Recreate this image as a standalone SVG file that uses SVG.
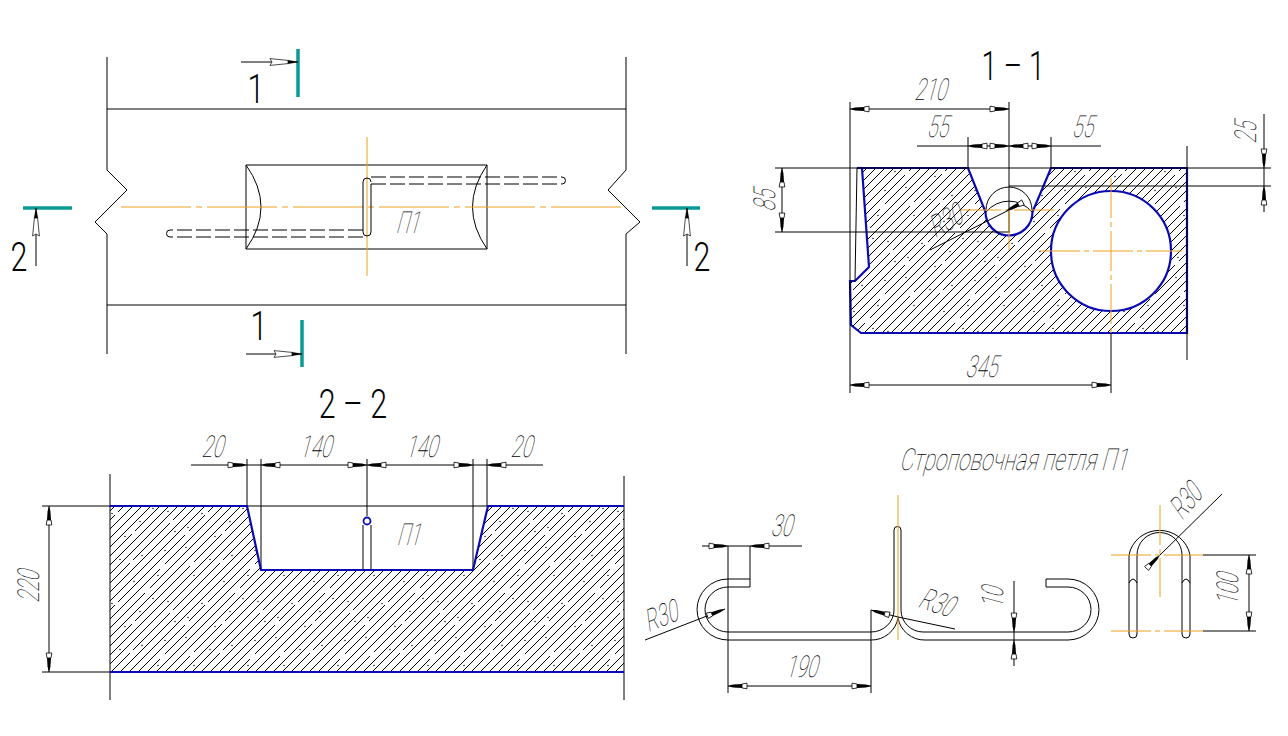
<svg xmlns="http://www.w3.org/2000/svg" xmlns:xlink="http://www.w3.org/1999/xlink" width="1288" height="736" viewBox="0 0 1288 736">
<style>
.k{fill:none;stroke:#000;stroke-width:1}
.b{fill:none;stroke:#0a0ab4;stroke-width:2.2}
.o{fill:none;stroke:#eda020;stroke-width:1;stroke-dasharray:70 5 6 5}
.os{fill:none;stroke:#eda020;stroke-width:1}
.t{fill:none;stroke:#0a9a96;stroke-width:3.5}
.dash{fill:none;stroke:#000;stroke-width:1;stroke-dasharray:15 4}
text{font-family:"Roboto","Liberation Sans",sans-serif;font-weight:100;fill:#000;text-anchor:middle;opacity:.98}
.dim{font-size:27px}
.big{font-size:38px;font-weight:300}
.lab{font-size:27px}
</style>
<defs>
<pattern id="h" width="9" height="9" patternUnits="userSpaceOnUse"><path d="M-1,10 L10,-1" stroke="#000" stroke-width="1" fill="none"/></pattern>
<pattern id="dots" width="90" height="90" patternUnits="userSpaceOnUse">
<path d="M10,26 l4,-4 M40,23 l3,-3 M70,29 l5,-5 M25,65 l3,-3 M55,53 l5,-5 M80,73 l3,-3 M5,85 l4,-4 M42,84 l3,-3" stroke="#fff" stroke-width="2" fill="none"/>
<g fill="#222"><circle cx="6" cy="7.5" r=".8"/><circle cx="30" cy="19.5" r=".8"/><circle cx="52" cy="15.5" r=".8"/><circle cx="75" cy="10.5" r=".8"/><circle cx="14" cy="35.5" r=".8"/><circle cx="44" cy="41.5" r=".8"/><circle cx="68" cy="35.5" r=".8"/><circle cx="22" cy="63.5" r=".8"/><circle cx="50" cy="71.5" r=".8"/><circle cx="78" cy="61.5" r=".8"/><circle cx="8" cy="77.5" r=".8"/><circle cx="35" cy="86.5" r=".8"/><circle cx="63" cy="58.5" r=".8"/><circle cx="85" cy="81.5" r=".8"/></g>
</pattern>
<g id="a"><path d="M0,0 L-5,-1.4 L-14,-2 V2 L-5,1.4 Z" fill="#000"/><path d="M-14,-2 L-19,-2.8 V2.8 L-14,2 Z" fill="#fff" stroke="#000" stroke-width=".8"/></g>
<g id="sa"><path d="M0,0 L-10,-1.8 L-10,1.8 Z" fill="#000" stroke="#000" stroke-width=".4"/><path d="M-10,-1.6 L-28,-3.4 L-26,0 L-28,3.4 L-10,1.6 Z" fill="#fff" stroke="#000" stroke-width=".7"/></g>
<path id="s1" d="M862,168 H968 L985.5,212 A23.5,23.5 0 0 0 1032.5,212 L1051,168 H1187 V333 H861 L851,325 L850,281 H855 L869,267 Z"/>
<path id="s2" d="M110,506 H247 L261,570 H473 L488,506 H624 V672 H110 Z"/>
</defs>
<rect width="1288" height="736" fill="#fff"/>

<g id="plan">
<path class="k" d="M107,57 V170 L127,190 L95,222 L107,234 V354 M626,57 V170 L608,190 L640,222 L626,234 V354 M107,109 H626 M107,305 H626"/>
<path class="k" d="M246,165 H487 V249 H246 Z M246,165 Q276,207 246,249 M487,165 Q458,207 487,249"/>
<path class="o" d="M121,207 H625"/>
<path class="os" d="M367,137 V276"/>
<path class="k" d="M371,184 V232 A4,4 0 0 1 363,232 V182 A4,4 0 0 1 371,182"/>
<path class="dash" d="M371,177 H562 M371,184 H562 M363,230 H170 M363,237 H170"/>
<path class="k" d="M562,177 A3.5,3.5 0 0 1 562,184 M170,230 A3.5,3.5 0 0 0 170,237"/>
<path class="t" d="M298,49 V97 M302,320 V367 M23,208 H72 M652,208 H700"/>
<path class="k" d="M241,62 H298 M246,354 H302 M36,266 V208 M687,266 V208"/>
<use href="#sa" transform="translate(298,62)"/>
<use href="#sa" transform="translate(302,354)"/>
<use href="#sa" transform="translate(36,208) rotate(-90)"/>
<use href="#sa" transform="translate(687,208) rotate(-90)"/>
<text class="big" transform="translate(256,103) scale(.8,1.05)">1</text>
<text class="big" transform="translate(259,340) scale(.8,1.05)">1</text>
<text class="big" transform="translate(19,271) scale(.8,1.05)">2</text>
<text class="big" transform="translate(702,271) scale(.8,1.05)">2</text>
<text class="lab" transform="translate(407,233) skewX(-15) scale(.68,1.12)">П1</text>
</g>

<g id="section-1-1">
<use href="#s1" fill="url(#h)"/>
<use href="#s1" fill="url(#dots)"/>
<circle cx="1111" cy="251" r="60" fill="#fff"/>
<circle class="b" cx="1111" cy="251" r="60"/>
<use href="#s1" class="b"/>
<path class="b" d="M857,168 H862"/>
<path class="k" d="M850,102 V393 M857,168 L855,281 M1009,102 V232 M968,137 V168 M1051,137 V168 M917,146 H1101 M850,109 H1009 M775,168 H1271 M775,232 H1010 M782,168 V232 M1009,186 H1271 M1264,114 V212 M1187,146 V360 M850,385 H1111 M1111,333 V393 M930,250 L1009,210"/>
<path class="k" d="M986,212 A31,33 0 0 1 1032,212 M986,210 A23,23 0 0 1 1032,210"/>
<path class="o" style="stroke-dasharray:40 4 5 4" d="M961,210 H1057 M1009,210 V250 M1040,251 H1182 M1111,178 V333"/>
<use href="#a" transform="translate(850,109) rotate(180)"/>
<use href="#a" transform="translate(1009,109)"/>
<use href="#a" transform="translate(968,146) rotate(180)"/>
<use href="#a" transform="translate(1009,146)"/>
<use href="#a" transform="translate(1009,146) rotate(180)"/>
<use href="#a" transform="translate(1051,146)"/>
<use href="#a" transform="translate(782,168) rotate(-90)"/>
<use href="#a" transform="translate(782,232) rotate(90)"/>
<use href="#a" transform="translate(1264,168) rotate(90)"/>
<use href="#a" transform="translate(1264,186) rotate(-90)"/>
<use href="#a" transform="translate(850,385) rotate(180)"/>
<use href="#a" transform="translate(1111,385)"/>
<use href="#a" transform="translate(1006,211) rotate(153)"/>
<text class="big" transform="translate(1013,80) scale(.74,1.05)">1 – 1</text>
<text class="dim" transform="translate(930,100) skewX(-15) scale(.72,1.12)">210</text>
<text class="dim" transform="translate(937,137) skewX(-15) scale(.72,1.12)">55</text>
<text class="dim" transform="translate(1082,137) skewX(-15) scale(.72,1.12)">55</text>
<text class="dim" transform="translate(775,201) rotate(-90) skewX(-15) scale(.72,1.12)">85</text>
<text class="dim" transform="translate(1256,133) rotate(-90) skewX(-15) scale(.72,1.12)">25</text>
<text class="dim" transform="translate(981,377) skewX(-15) scale(.72,1.12)">345</text>
<text class="dim" transform="translate(950,230) rotate(-30) skewX(-15) scale(.72,1.12)">R30</text>
</g>

<g id="section-2-2">
<use href="#s2" fill="url(#h)"/>
<use href="#s2" fill="url(#dots)"/>
<path class="k" d="M110,474 V700 M624,476 V700 M42,506 H488 M42,672 H110 M49,506 V672 M191,465 H543 M247,459 V506 M261,459 V570 M367,459 V516 M473,459 V570 M487,459 V506 M363,525 V570 M371,525 V570"/>
<path class="b" d="M110,506 H247 L261,570 H473 L488,506 H624 M110,672 H624"/>
<circle cx="367" cy="521" r="3.5" fill="#fff" stroke="#0a0ab4" stroke-width="1.8"/>
<use href="#a" transform="translate(247,465)"/>
<use href="#a" transform="translate(261,465) rotate(180)"/>
<use href="#a" transform="translate(367,465)"/>
<use href="#a" transform="translate(367,465) rotate(180)"/>
<use href="#a" transform="translate(473,465)"/>
<use href="#a" transform="translate(487,465) rotate(180)"/>
<use href="#a" transform="translate(49,506) rotate(-90)"/>
<use href="#a" transform="translate(49,672) rotate(90)"/>
<text class="big" transform="translate(353,418) scale(.8,1.05)">2 – 2</text>
<text class="dim" transform="translate(212,457) skewX(-15) scale(.72,1.12)">20</text>
<text class="dim" transform="translate(315,457) skewX(-15) scale(.72,1.12)">140</text>
<text class="dim" transform="translate(421,457) skewX(-15) scale(.72,1.12)">140</text>
<text class="dim" transform="translate(521,457) skewX(-15) scale(.72,1.12)">20</text>
<text class="dim" transform="translate(39,587) rotate(-90) skewX(-15) scale(.72,1.12)">220</text>
<text class="lab" transform="translate(408,545) skewX(-15) scale(.68,1.12)">П1</text>
</g>

<g id="loop-p1">
<path class="k" d="M750,579 V587 H728 A23,22.5 0 0 0 728,632 H871 A23,22 0 0 0 894,610 V530 A3.5,3.5 0 0 1 901,530 V610 A22,22 0 0 0 923,632 H1068 A23,22.5 0 0 0 1068,587 H1046 V579 H1068 A31,30.5 0 0 1 1068,640 H925 A27,27 0 0 1 898,618 A27,27 0 0 1 871,640 H728 A31,30.5 0 0 1 728,579 Z"/>
<path class="os" d="M898,495 V640"/>
<path class="k" d="M728,546 V693 M750,546 V579 M702,546 H802 M645,640 L725,609 M728,686 H871 M871,610 V693 M871,610 L898,617 L955,629 M1014,581 V666"/>
<use href="#a" transform="translate(728,546)"/>
<use href="#a" transform="translate(750,546) rotate(180)"/>
<use href="#a" transform="translate(725,609) rotate(-21)"/>
<use href="#a" transform="translate(728,686) rotate(180)"/>
<use href="#a" transform="translate(871,686)"/>
<use href="#a" transform="translate(871,610) rotate(195)"/>
<use href="#a" transform="translate(1014,632) rotate(90)"/>
<use href="#a" transform="translate(1014,640) rotate(-90)"/>
<path class="k" d="M1137,555 V634 A4,4 0 0 1 1129,634 V555 A31,30 0 0 1 1190,555 V634 A4,4 0 0 1 1182,634 V555 A22,22 0 0 0 1137,555 M1129,583 Q1133,575 1137,583 M1182,583 Q1186,575 1190,583"/>
<path class="o" style="stroke-dasharray:40 4 5 4" d="M1111,555 H1203 M1111,631 H1203 M1160,505 V597"/>
<path class="k" d="M1203,555 H1256 M1203,631 H1256 M1249,555 V631 M1160,555 L1222,494"/>
<use href="#a" transform="translate(1160,555) rotate(-45)"/>
<use href="#a" transform="translate(1249,555) rotate(-90)"/>
<use href="#a" transform="translate(1249,631) rotate(90)"/>
<text class="dim" transform="translate(1013,470) skewX(-15) scale(.78,1.12)">Строповочная петля П1</text>
<text class="dim" transform="translate(781,536) skewX(-15) scale(.72,1.12)">30</text>
<text class="dim" transform="translate(664,626) rotate(-22) skewX(-15) scale(.72,1.12)">R30</text>
<text class="dim" transform="translate(801,677) skewX(-15) scale(.72,1.12)">190</text>
<text class="dim" transform="translate(933,612) rotate(18) skewX(-15) scale(.72,1.12)">R30</text>
<text class="dim" transform="translate(1003,598) rotate(-90) skewX(-15) scale(.72,1.12)">10</text>
<text class="dim" transform="translate(1238,590) rotate(-90) skewX(-15) scale(.72,1.12)">100</text>
<text class="dim" transform="translate(1193,508) rotate(-50) skewX(-15) scale(.72,1.12)">R30</text>
</g>
</svg>
